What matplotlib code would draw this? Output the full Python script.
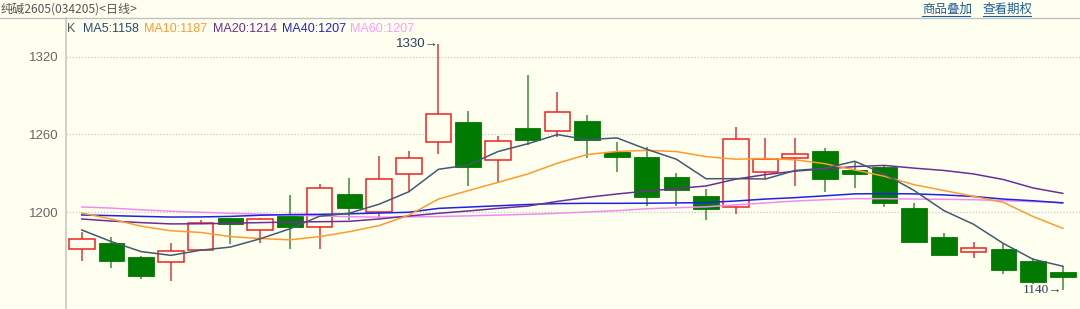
"""
纯碱2605 日线 K线图 (matplotlib 复刻)
"""
import matplotlib
matplotlib.use('Agg')
import matplotlib.pyplot as plt
from matplotlib.lines import Line2D
import numpy as np

plt.rcParams['font.family'] = ['Liberation Sans', 'Noto Sans CJK SC', 'DejaVu Sans']

# ---- 数据 ----
opens = [1171.2, 1175.8, 1165.5, 1161.4, 1170.4, 1195.1, 1185.8, 1197.2, 1188.4, 1213.9,
         1200.0, 1229.6, 1254.1, 1269.3, 1239.9, 1265.2, 1262.3, 1270.3, 1246.4, 1242.2,
         1226.8, 1212.6, 1204.1, 1231.2, 1241.7, 1247.1, 1232.4, 1235.0, 1202.8, 1180.4,
         1168.8, 1171.4, 1161.9, 1153.4]
closes = [1178.9, 1162.1, 1150.6, 1169.6, 1191.2, 1191.0, 1194.3, 1188.7, 1218.3, 1203.3,
          1225.5, 1242.0, 1275.7, 1235.0, 1255.1, 1255.6, 1277.5, 1255.6, 1242.5, 1211.3,
          1217.0, 1202.3, 1256.1, 1240.7, 1244.6, 1225.2, 1229.4, 1207.2, 1176.8, 1166.8,
          1172.2, 1155.4, 1146.2, 1149.8]
highs = [1184.8, 1180.4, 1166.0, 1175.8, 1193.8, 1195.6, 1195.1, 1212.9, 1221.6, 1226.0,
         1243.0, 1247.1, 1330.0, 1278.3, 1258.5, 1305.8, 1292.5, 1274.9, 1254.3, 1250.0,
         1229.9, 1217.8, 1265.9, 1256.9, 1256.9, 1249.2, 1239.7, 1236.3, 1206.7, 1184.0,
         1176.8, 1176.3, 1164.2, 1158.3]
lows = [1162.1, 1157.0, 1148.0, 1146.7, 1169.6, 1175.3, 1176.3, 1171.2, 1171.2, 1193.8,
        1195.4, 1215.7, 1245.1, 1220.3, 1223.2, 1251.8, 1258.2, 1241.5, 1230.9, 1204.9,
        1204.9, 1193.8, 1198.2, 1225.5, 1220.3, 1215.5, 1218.8, 1204.1, 1176.8, 1166.0,
        1164.5, 1152.1, 1144.0, 1140.0]

ma5 = [1186.1, 1177.1, 1169.4, 1166.5, 1170.5, 1172.9, 1179.3, 1187.0, 1196.7, 1199.1,
       1206.0, 1215.6, 1233.0, 1236.3, 1246.7, 1252.7, 1259.8, 1255.8, 1257.3, 1248.5,
       1240.8, 1225.7, 1225.8, 1225.5, 1232.1, 1233.8, 1239.2, 1229.4, 1216.6, 1201.1,
       1190.5, 1175.7, 1163.5, 1158.1]
ma10 = [1199.2, 1194.5, 1189.0, 1185.5, 1184.2, 1181.0, 1179.5, 1178.5, 1181.0, 1184.8,
        1189.5, 1197.5, 1210.0, 1216.5, 1222.9, 1229.4, 1237.7, 1244.4, 1246.8, 1247.6,
        1246.7, 1242.8, 1240.8, 1241.4, 1240.3, 1237.3, 1232.5, 1227.6, 1221.1, 1216.6,
        1212.1, 1207.4, 1196.5, 1187.4]
ma20 = [1194.6, 1193.0, 1191.8, 1190.8, 1190.9, 1191.3, 1191.8, 1192.2, 1192.5, 1192.8,
        1194.6, 1196.9, 1199.0, 1200.8, 1202.8, 1204.6, 1208.2, 1211.3, 1213.9, 1216.2,
        1218.1, 1220.1, 1225.4, 1228.9, 1231.6, 1233.3, 1235.1, 1236.0, 1233.9, 1232.1,
        1229.4, 1225.1, 1218.6, 1214.4]
ma40 = [1197.7, 1197.2, 1196.6, 1196.1, 1196.2, 1196.6, 1197.5, 1198.0, 1198.2, 1198.6,
        1199.2, 1199.8, 1202.8, 1203.8, 1204.8, 1205.8, 1206.5, 1206.7, 1206.7, 1206.8,
        1207.0, 1207.3, 1208.5, 1210.0, 1211.1, 1212.5, 1214.0, 1214.2, 1214.0, 1213.2,
        1212.0, 1210.0, 1208.7, 1207.0]
ma60 = [1203.9, 1203.0, 1201.7, 1200.6, 1199.8, 1199.0, 1198.3, 1197.6, 1197.0, 1196.4,
        1196.0, 1196.2, 1196.5, 1197.0, 1197.6, 1198.2, 1199.0, 1200.0, 1201.0, 1202.5,
        1203.3, 1204.0, 1205.5, 1207.0, 1208.5, 1209.5, 1210.3, 1210.3, 1210.0, 1209.8,
        1209.5, 1208.8, 1208.0, 1207.3]

yticks = [1200, 1260, 1320]
title = '纯碱2605(034205)<日线>'
links = ['商品叠加', '查看期权']
ma_names = ['MA5', 'MA10', 'MA20', 'MA40', 'MA60']
ma_colors = ['#3f5a72', '#ff9a2e', '#6a2f96', '#2020e6', '#f08cf0']
ma_text_colors = ['#2b4a6e', '#ff9933', '#6a2c91', '#2222cc', '#ff99ff']

BG = '#fffff0'
UP = '#f02020'
UP_WICK = '#d23a3a'
DN = '#007a00'
DN_WICK = '#3c8c3c'

W, H = 1080, 309
fig = plt.figure(figsize=(W / 100, H / 100), dpi=100, facecolor=BG)
ax = fig.add_axes([66 / W, 0, 1 - 66 / W, (H - 18) / H], facecolor=BG)

x = np.arange(len(closes))
o = np.array(opens); c = np.array(closes)
hi = np.array(highs); lo = np.array(lows)
up = c >= o

# 影线
ax.vlines(x[up], lo[up], hi[up], color=UP_WICK, lw=1.1, zorder=2)
ax.vlines(x[~up], lo[~up], hi[~up], color=DN_WICK, lw=1.1, zorder=2)
# 实体
body_lo = np.minimum(o, c)
body_h = np.abs(c - o)
ax.bar(x[up], body_h[up], bottom=body_lo[up], width=0.86, facecolor=BG,
       edgecolor=UP, linewidth=1.1, zorder=3)
ax.bar(x[~up], body_h[~up], bottom=body_lo[~up], width=0.86, facecolor=DN,
       edgecolor=DN, linewidth=0.6, zorder=3)

# 均线
for vals, col in zip([ma60, ma40, ma20, ma10, ma5], ma_colors[::-1]):
    ax.plot(x, vals, color=col, lw=1.1, zorder=4)

# 网格
for t in yticks:
    ax.axhline(t, color='#c8c8c8', lw=0.9, ls=(0, (1, 1.5)), zorder=1)

ax.set_xlim(-0.53, 33.58)
ax.set_ylim(1125.05, 1349.9)
ax.set_yticks(yticks)
ax.set_xticks([])
ax.tick_params(axis='y', length=0, pad=5, labelsize=9.5, labelcolor='#666666')
for s in ['top', 'right', 'bottom']:
    ax.spines[s].set_visible(False)
ax.spines['left'].set_color('#c8c8c8')
ax.spines['left'].set_linewidth(1.2)

# 最高/最低标注
i_hi = int(np.argmax(hi)); i_lo = int(np.argmin(lo))
ax.text(i_hi, hi[i_hi], f'{hi[i_hi]:.0f}\u2192', ha='right', va='center',
        fontsize=9.5, color='#2b3f5c', family=['Liberation Sans', 'DejaVu Sans'], zorder=5)
ax.text(i_lo, lo[i_lo], f'{lo[i_lo]:.0f}\u2192', ha='right', va='center',
        fontsize=9.5, color='#2b3f5c', family=['Liberation Serif', 'DejaVu Sans'], zorder=5)

# 顶部标题与分隔线
fig.text(1 / W, 1 - 9 / H, title, ha='left', va='center', fontsize=8.7,
         color='#555555', family=['Noto Sans CJK SC', 'DejaVu Sans'])
fig.add_artist(Line2D([0, 1], [1 - 17.5 / H, 1 - 17.5 / H], transform=fig.transFigure,
                      color='#c0c0c0', lw=1.0))
link_x = [922, 983]
for lx, txt in zip(link_x, links):
    t = fig.text(lx / W, 1 - 9 / H, txt, ha='left', va='center', fontsize=9,
                 color='#1e5f96', family=['Noto Sans CJK SC', 'DejaVu Sans'])
    fig.add_artist(Line2D([lx / W, (lx + 48) / W], [1 - 16 / H, 1 - 16 / H],
                          transform=fig.transFigure, color='#1e5f96', lw=0.8))

# 均线图例
fig.text(67 / W, 1 - 29 / H, 'K', ha='left', va='center', fontsize=9, color='#555555')
legend_x = [82.7, 144, 212.7, 281.7, 350]
last = [ma5[-1], ma10[-1], ma20[-1], ma40[-1], ma60[-1]]
for lx, name, val, col in zip(legend_x, ma_names, last, ma_text_colors):
    fig.text(lx / W, 1 - 29 / H, f'{name}:{val:.0f}', ha='left', va='center',
             fontsize=9, color=col)

fig.savefig('out.png', dpi=100, facecolor=BG)
